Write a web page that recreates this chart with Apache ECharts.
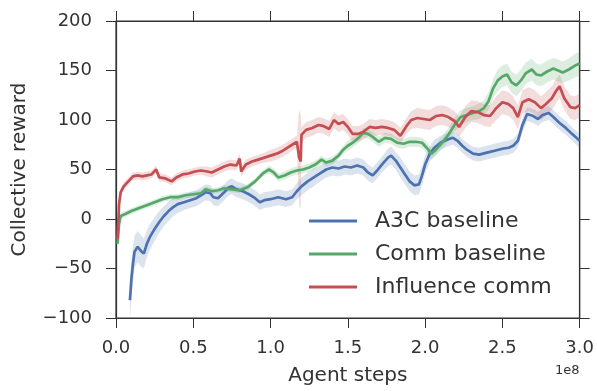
<!DOCTYPE html>
<html>
<head>
<meta charset="utf-8">
<script src="https://cdn.jsdelivr.net/npm/echarts@6/dist/echarts.min.js"></script>
<style>
html,body{margin:0;padding:0;background:#fff;}
#chart{width:597px;height:391px;}
</style>
</head>
<body>
<div id="chart"></div>
<script>
// ---- Data (x in units of 1e8 agent steps) ----
const seriesNames = ['A3C baseline', 'Comm baseline', 'Influence comm'];
const xTicks = [0.0, 0.5, 1.0, 1.5, 2.0, 2.5, 3.0];
const yTicks = [-100, -50, 0, 50, 100, 150, 200];

const a3cX = [0.09,0.10,0.11,0.12,0.14,0.16,0.18,0.20,0.22,0.25,0.28,0.31,0.34,0.37,0.40,0.44,0.48,0.52,0.55,0.58,0.61,0.63,0.66,0.70,0.73,0.75,0.78,0.82,0.86,0.90,0.93,0.96,1.00,1.05,1.10,1.14,1.17,1.20,1.24,1.28,1.32,1.36,1.40,1.44,1.48,1.52,1.56,1.60,1.63,1.66,1.69,1.72,1.76,1.78,1.81,1.84,1.87,1.90,1.93,1.96,1.98,2.00,2.03,2.06,2.10,2.14,2.18,2.21,2.24,2.27,2.31,2.35,2.40,2.45,2.50,2.54,2.57,2.60,2.63,2.66,2.70,2.73,2.76,2.80,2.83,2.87,2.91,2.95,3.00];
const a3cY = [-82,-60,-45,-33,-28,-32,-35,-25,-18,-10,-3,3,8,12,15,17,19,21,24,27,26,22,21,27,32,33,30,28,25,21,17,19,20,22,20,22,28,33,38,42,46,50,52,51,53,52,54,52,47,44,49,55,62,64,59,52,45,38,34,35,44,55,66,72,77,80,82,79,74,70,66,65,67,69,71,72,74,79,95,106,104,101,105,107,103,97,92,86,79];
const a3cSpread = [20,20,18,16,16,16,15,14,13,12,11,10,10,9,9,8,8,8,8,8,8,8,8,8,8,8,8,8,8,8,8,8,8,8,8,8,8,9,9,9,8,8,8,8,8,8,8,8,8,8,8,8,9,9,9,10,10,10,10,10,10,9,8,8,7,7,7,7,7,7,7,7,7,7,7,7,7,7,7,7,7,7,7,7,7,7,7,7,7];

const commX = [0.01,0.02,0.03,0.06,0.10,0.15,0.20,0.25,0.30,0.35,0.40,0.45,0.50,0.55,0.58,0.62,0.66,0.70,0.75,0.80,0.85,0.90,0.95,0.99,1.02,1.05,1.09,1.13,1.17,1.21,1.25,1.29,1.33,1.36,1.40,1.44,1.47,1.50,1.54,1.57,1.60,1.63,1.66,1.70,1.74,1.78,1.82,1.86,1.90,1.94,1.98,2.01,2.04,2.07,2.11,2.15,2.19,2.23,2.27,2.31,2.35,2.38,2.41,2.44,2.47,2.50,2.53,2.56,2.59,2.62,2.65,2.69,2.72,2.75,2.79,2.83,2.86,2.89,2.93,2.97,3.00];
const commY = [-25,-5,3,5,8,11,14,17,20,22,22,24,25,26,30,28,29,31,30,29,32,38,46,50,47,42,44,47,49,50,52,55,60,57,59,64,70,74,78,82,87,86,83,78,82,81,77,76,78,78,77,72,66,70,77,85,95,103,105,107,109,112,119,132,140,144,146,138,135,140,147,151,146,145,149,152,150,148,151,155,157];
const commSpread = [6,4,3,3,3,3,3,3,3,3,3,3,3,3,3,3,3,3,3,3,3,3,3,4,4,4,4,4,4,4,4,4,4,4,4,4,4,5,5,5,5,5,5,5,5,5,5,5,5,5,5,6,6,6,6,7,7,7,7,7,8,8,9,10,11,11,11,11,11,11,11,11,11,11,11,11,11,11,11,12,12];

const inflX = [0.01,0.02,0.03,0.05,0.08,0.11,0.14,0.17,0.20,0.23,0.26,0.28,0.32,0.36,0.39,0.43,0.47,0.51,0.55,0.59,0.62,0.66,0.70,0.74,0.78,0.80,0.81,0.84,0.88,0.92,0.96,1.00,1.04,1.08,1.12,1.15,1.17,1.185,1.195,1.20,1.23,1.27,1.31,1.34,1.38,1.41,1.44,1.47,1.50,1.53,1.57,1.60,1.64,1.68,1.72,1.76,1.80,1.84,1.88,1.91,1.95,1.99,2.03,2.07,2.11,2.15,2.19,2.22,2.26,2.30,2.34,2.38,2.42,2.46,2.50,2.54,2.57,2.60,2.63,2.67,2.71,2.75,2.78,2.82,2.85,2.87,2.90,2.94,2.97,3.00];
const inflY = [-20,15,27,33,38,43,44,43,44,45,50,42,41,38,42,45,46,48,49,48,47,50,53,55,54,61,48,55,58,60,62,64,66,69,73,76,78,62,58,85,90,92,95,94,91,100,96,98,93,86,86,88,93,92,93,92,90,84,94,100,102,101,100,104,105,103,99,93,103,109,108,105,104,112,118,116,112,103,118,121,118,112,116,122,130,134,122,113,112,115];
const inflSpread = [8,5,4,4,4,4,4,4,4,4,4,4,4,4,4,4,4,4,4,5,5,5,5,5,5,5,5,5,5,5,5,6,6,6,6,6,6,48,48,8,8,8,8,8,8,8,8,8,8,8,8,8,8,8,8,8,8,8,8,9,10,10,10,10,10,10,10,10,11,11,11,11,11,12,12,12,12,12,12,12,12,12,12,12,12,12,12,12,12,12];

const colors = ['#4C72B0', '#55A868', '#C44E52'];
const FONT = 'DejaVu Sans';
const TXT = '#333333';

const allX = [a3cX, commX, inflX];
const allY = [a3cY, commY, inflY];
const allS = [a3cSpread, commSpread, inflSpread];

const series = [];
// confidence bands (polygons placed through the axis scales)
for (let k = 0; k < 3; k++) {
  const xs = allX[k], ys = allY[k], ss = allS[k];
  series.push({
    type: 'custom', name: 'band-' + k, silent: true, z: 1, clip: true,
    data: [0],
    renderItem: function (params, api) {
      const upper = xs.map((x, i) => api.coord([x, ys[i] + ss[i]]));
      const lower = xs.map((x, i) => api.coord([x, ys[i] - ss[i]])).reverse();
      return {
        type: 'polygon',
        shape: { points: upper.concat(lower) },
        style: { fill: colors[k], opacity: 0.2 }
      };
    }
  });
}
// mean lines
for (let k = 0; k < 3; k++) {
  series.push({
    type: 'line', name: seriesNames[k],
    data: allX[k].map((x, i) => [x, allY[k][i]]),
    symbol: 'none', color: colors[k],
    lineStyle: { color: colors[k], width: 2.7 }, z: 3
  });
}

function mkLine() { return { show: true, onZero: false, lineStyle: { color: '#333', width: 1.2 } }; }
function mkTick() { return { show: true, inside: false, length: 10, lineStyle: { color: '#333', width: 1 } }; }

const chart = echarts.init(document.getElementById('chart'), null, { renderer: 'canvas' });
chart.setOption({
  animation: false,
  backgroundColor: '#fff',
  grid: { left: 116, right: 15, top: 21, bottom: 71, containLabel: false,
          show: true, borderColor: '#333', borderWidth: 1.2, backgroundColor: 'transparent' },
  xAxis: [{
    type: 'value', min: xTicks[0], max: xTicks[xTicks.length - 1], interval: 0.5,
    position: 'bottom',
    name: 'Agent steps', nameLocation: 'middle', nameGap: 48,
    nameTextStyle: { fontFamily: FONT, fontSize: 20, color: TXT },
    axisLine: mkLine(), axisTick: mkTick(),
    axisLabel: { margin: 21, fontFamily: FONT, fontSize: 18, color: TXT, formatter: v => v.toFixed(1) },
    splitLine: { show: false }
  }, {
    type: 'value', min: xTicks[0], max: xTicks[xTicks.length - 1], interval: 0.5,
    position: 'top', axisLine: mkLine(), axisTick: mkTick(), axisLabel: { show: false }, splitLine: { show: false }
  }],
  yAxis: [{
    type: 'value', min: yTicks[0], max: yTicks[yTicks.length - 1], interval: 50,
    position: 'left',
    name: 'Collective reward', nameLocation: 'middle', nameGap: 86,
    nameTextStyle: { fontFamily: FONT, fontSize: 20, color: TXT },
    axisLine: mkLine(), axisTick: mkTick(),
    axisLabel: { margin: 24, fontFamily: FONT, fontSize: 18, color: TXT,
      formatter: v => (v < 0 ? '\u2212' + Math.abs(v) : String(v)) },
    splitLine: { show: false }
  }, {
    type: 'value', min: yTicks[0], max: yTicks[yTicks.length - 1], interval: 50,
    position: 'right', offset: 0,
    axisLine: mkLine(), axisTick: mkTick(), axisLabel: { show: false }, splitLine: { show: false }
  }],
  legend: {
    data: seriesNames,
    orient: 'vertical', left: 309, top: 209, padding: 0,
    icon: 'rect', itemWidth: 48, itemHeight: 3, itemGap: 9,
    textStyle: { fontFamily: FONT, fontSize: 22, color: TXT, lineHeight: 24, padding: [0, 0, 0, 13] }
  },
  graphic: [{
    type: 'text', left: 555, top: 364,
    style: { text: '1e8', fontFamily: FONT, fontSize: 13, fill: TXT }
  }],
  series
});
</script>
</body>
</html>
